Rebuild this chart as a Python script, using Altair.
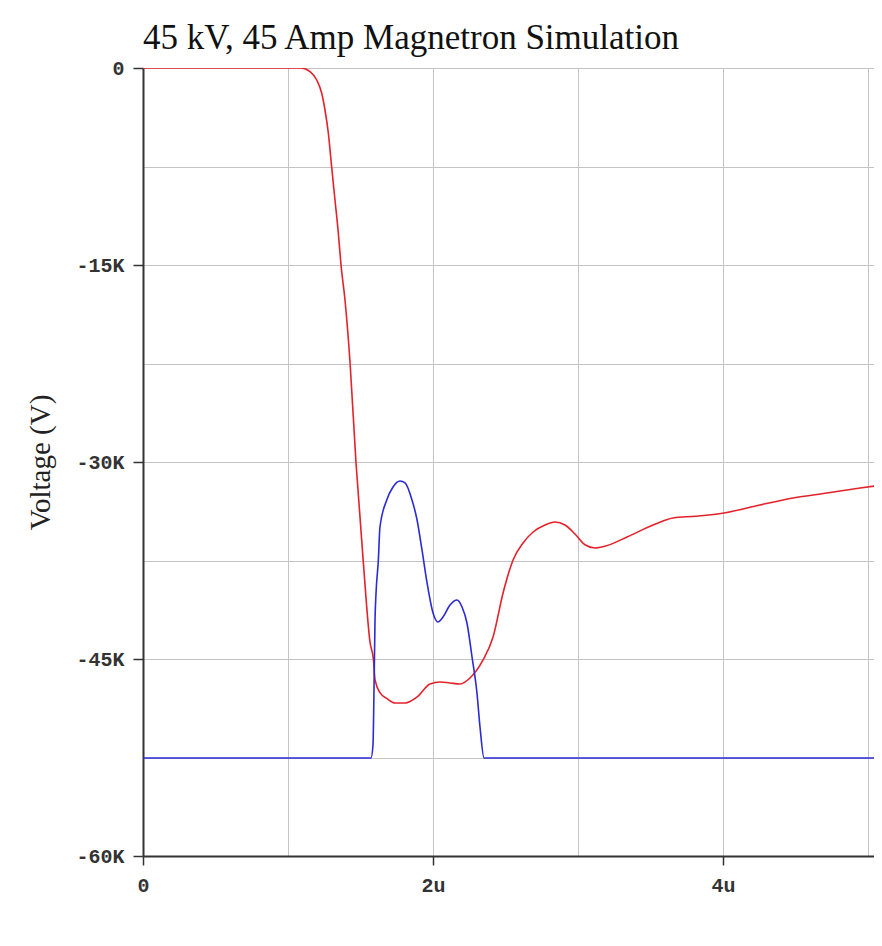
import altair as alt
import pandas as pd

# Voltage trace (red): time in microseconds, volts
t_volt = [0.0, 1.090, 1.152, 1.198, 1.232, 1.255, 1.278, 1.301, 1.324, 1.347, 1.366, 1.393,
          1.428, 1.469, 1.519, 1.566, 1.589, 1.600, 1.634, 1.683, 1.738, 1.807, 1.890,
          1.979, 2.048, 2.117, 2.186, 2.255, 2.345, 2.414, 2.483, 2.552, 2.621, 2.690, 2.772,
          2.841, 2.910, 2.979, 3.048, 3.117, 3.190, 3.338, 3.517, 3.655, 3.810, 4.007,
          4.255, 4.483, 4.717, 4.945, 5.097]
v_volt = [0, 0, -282, -914, -1904, -3198, -4949, -7538, -10050, -12563, -15053, -17665,
          -22461, -30075, -37590, -43757, -45051, -46574, -47564, -48020, -48350, -48350, -47890,
          -46900, -46750, -46826, -46900, -46445, -45075, -43324, -39974, -37461, -36167, -35330, -34796,
          -34568, -34796, -35481, -36300, -36547, -36400, -35710, -34796, -34263, -34130, -33883,
          -33273, -32740, -32360, -31979, -31750]

# Current trace (blue), plotted on the same axis
t_curr = [0.0, 1.572, 1.586, 1.593, 1.600, 1.607, 1.623, 1.634, 1.681, 1.724, 1.772, 1.807,
          1.855, 1.890, 1.924, 1.959, 2.000, 2.034, 2.069, 2.117, 2.166, 2.200, 2.234, 2.269,
          2.303, 2.324, 2.352, 5.097]
v_curr = [-52537, -52537, -51547, -47359, -42029, -39974, -37461, -34949, -32893, -31903, -31446, -31598,
          -32893, -34415, -36699, -39212, -41496, -42182, -41801, -40887, -40507, -41040, -42258, -44847,
          -47588, -50176, -52537, -52537]

x_grid = [0, 1, 2, 3, 4, 5]
y_grid = [0, -7500, -15000, -22500, -30000, -37500, -45000, -52500, -60000]

df_v = pd.DataFrame({"t": t_volt, "v": v_volt})
df_c = pd.DataFrame({"t": t_curr, "v": v_curr})

x_enc = alt.X(
    "t:Q",
    scale=alt.Scale(domain=[0, 5.041], nice=False, zero=False),
    axis=alt.Axis(
        values=x_grid,
        title=None,
        labelExpr="datum.value == 0 ? '0' : (datum.value % 2 == 0 ? datum.value + 'u' : '')",
        tickOpacity={"condition": {"test": "datum.value % 2 == 0", "value": 1}, "value": 0},
        tickSize=9,
        labelPadding=10,
        labelFlush=False,
        labelOverlap=False,
    ),
)
y_enc = alt.Y(
    "v:Q",
    scale=alt.Scale(domain=[-60000, 0], nice=False),
    axis=alt.Axis(
        values=y_grid,
        title="Voltage (V)",
        labelExpr="datum.value == 0 ? '0' : (datum.value % 15000 == 0 ? (datum.value / 1000) + 'K' : '')",
        tickOpacity={"condition": {"test": "datum.value % 15000 == 0", "value": 1}, "value": 0},
        tickSize=10,
        labelPadding=9,
        labelOverlap=False,
        titleX=-88,
        titleFont="Liberation Serif",
        titleFontSize=29,
        titleFontWeight="normal",
        titleColor="#222",
    ),
)

red = alt.Chart(df_v).mark_line(color="#e4222c", strokeWidth=1.6, interpolate="monotone", clip=True).encode(x=x_enc, y=y_enc)
blue = alt.Chart(df_c).mark_line(color="#2b2bd6", strokeWidth=1.6, interpolate="monotone", clip=True).encode(x="t:Q", y="v:Q")

chart = (
    alt.layer(red, blue)
    .properties(
        width=731,
        height=788,
        autosize=alt.AutoSizeParams(type="none"),
        padding={"left": 135, "top": 60, "right": 0, "bottom": 62},
        title=alt.TitleParams(
            "45 kV, 45 Amp Magnetron Simulation",
            anchor="start",
            frame="group",
            font="Liberation Serif",
            fontSize=35,
            fontWeight="normal",
            color="#111",
            baseline="alphabetic",
            offset=7,
            dy=33,
        ),
    )
    .configure_view(stroke=None)
    .configure_axis(
        grid=True,
        gridColor="#c4c4c4",
        gridWidth=1,
        domainColor="#333",
        domainWidth=2,
        tickColor="#333",
        tickWidth=1.5,
        labelFont="Liberation Mono",
        labelFontSize=20,
        labelFontWeight="bold",
        labelColor="#333",
    )
)

chart.save("out.html", embed_options={"renderer": "svg", "actions": False})
